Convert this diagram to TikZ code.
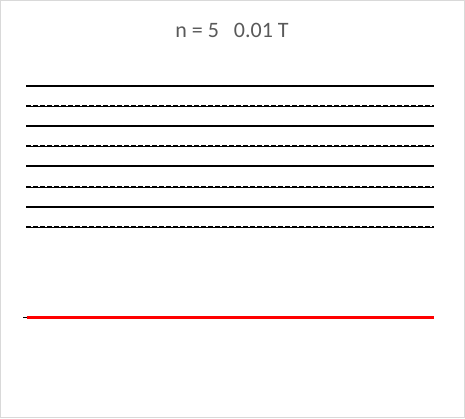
\documentclass[tikz,border=0pt]{standalone}
\usepackage{fontspec}
\setmainfont{Carlito}
\usepackage{xcolor}
\usepackage{tikz}
\usetikzlibrary{positioning}
\definecolor{framegray}{HTML}{D9D9D9}
\definecolor{titlegray}{HTML}{595959}

\begin{document}
\begin{tikzpicture}[x=1pt,y=-1pt,
		solidline/.style={line width=1.8pt,black},
		dashline/.style={line width=1.6pt,black,dash pattern=on 5pt off 2pt},
		baseline/.style={line width=0.6pt,black},
		redline/.style={line width=2.8pt,red}]
			
			\useasboundingbox (0,0) rectangle (465,418);
			\draw[framegray,line width=1pt] (0.5,0.5) rectangle (464.5,417.5);
			
			\node[text=titlegray,font=\fontsize{22}{26}\selectfont] (title) at (232,30.5) {n = 5\ \ \ 0.01 T};
			
			\draw[solidline] (26,86) -- (434,86);
			\draw[solidline] (26,126) -- (434,126);
			\draw[solidline] (26,166) -- (434,166);
			\draw[solidline] (26,207) -- (434,207);
			
			\draw[baseline] (26,106) -- (434,106);
			\draw[dashline] (26,105.5) -- (434,105.5);
			\draw[baseline] (26,146) -- (434,146);
			\draw[dashline] (26,145.5) -- (434,145.5);
			\draw[baseline] (26,187) -- (434,187);
			\draw[dashline] (26,186.5) -- (434,186.5);
			\draw[baseline] (26,227) -- (434,227);
			\draw[dashline] (26,226.5) -- (434,226.5);
			
			\draw[line width=1pt] (23,317.3) -- (27,317.3);
			\draw[redline] (26.5,317.3) -- (434,317.3);
			
		\end{tikzpicture}
\end{document}
